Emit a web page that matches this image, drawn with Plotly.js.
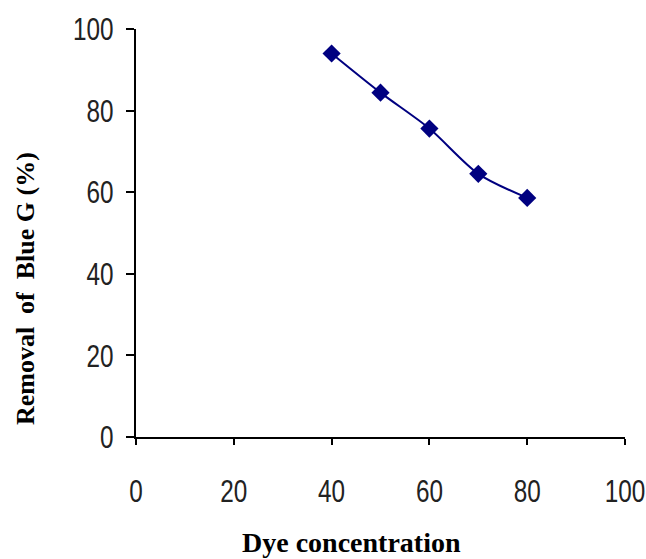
<!DOCTYPE html>
<html>
<head>
<meta charset="utf-8">
<script src="https://cdn.plot.ly/plotly-3.0.1.min.js"></script>
<style>html,body{margin:0;padding:0;background:#fff;}#chart{width:646px;height:559px;}</style>
</head>
<body>
<div id="chart"></div>
<script>
const dyeConcentration = [40, 50, 60, 70, 80];
const removalPct = [94.0, 84.4, 75.6, 64.5, 58.6];
const xTickVals = [0, 20, 40, 60, 80, 100];
const yTickVals = [0, 20, 40, 60, 80, 100];
const xTitle = "Dye concentration";
const yTitle = "Removal\u00a0\u00a0of\u00a0\u00a0Blue G (%)";

const tickFont = {family: "'Liberation Sans', Arial, sans-serif", size: 32, color: "#222"};
const titleFamily = "'Liberation Serif', 'Times New Roman', serif";

const trace = {
  x: dyeConcentration,
  y: removalPct,
  mode: "lines+markers",
  type: "scatter",
  line: {color: "#000080", width: 2, shape: "spline", smoothing: 0.8},
  marker: {symbol: "diamond", size: 14, color: "#000080"},
  hoverinfo: "x+y"
};

const layout = {
  width: 646, height: 559,
  margin: {l: 136, r: 21, t: 29, b: 122},
  paper_bgcolor: "#fff", plot_bgcolor: "#fff",
  showlegend: false,
  xaxis: {
    range: [0, 100], tickvals: xTickVals, ticktext: xTickVals.map(String),
    showline: true, linecolor: "#000", linewidth: 2,
    ticks: "outside", ticklen: 6, tickwidth: 2, tickcolor: "#000",
    ticklabelstandoff: 19, ticklabeloverflow: "allow",
    showgrid: false, zeroline: false, tickfont: tickFont
  },
  yaxis: {
    range: [0, 100], tickvals: yTickVals, ticktext: yTickVals.map(String),
    showline: true, linecolor: "#000", linewidth: 2,
    ticks: "outside", ticklen: 8, tickwidth: 2, tickcolor: "#000",
    ticklabelstandoff: 6, ticklabeloverflow: "allow",
    showgrid: false, zeroline: false, tickfont: tickFont
  },
  annotations: [
    {text: xTitle, xref: "paper", yref: "paper", x: 0.44, y: -0.258,
     showarrow: false, xanchor: "center", yanchor: "middle",
     font: {family: titleFamily, size: 28, color: "#000", weight: "bold"}},
    {text: yTitle, xref: "paper", yref: "paper", x: -0.227, y: 0.365,
     showarrow: false, xanchor: "center", yanchor: "middle", textangle: -90,
     font: {family: titleFamily, size: 26, color: "#000", weight: "bold"}}
  ]
};

Plotly.newPlot("chart", [trace], layout, {displayModeBar: false, staticPlot: true}).then(function (gd) {
  // condense tick labels horizontally, like the narrow digits of the original
  gd.querySelectorAll(".xtick text, .ytick text").forEach(function (t) {
    const x = parseFloat(t.getAttribute("x")) || 0;
    const y = parseFloat(t.getAttribute("y")) || 0;
    const tr = t.getAttribute("transform") || "";
    t.setAttribute("transform", tr + " translate(" + x + "," + y + ") scale(0.76,1) translate(" + (-x) + "," + (-y) + ")");
  });
});
</script>
</body>
</html>
